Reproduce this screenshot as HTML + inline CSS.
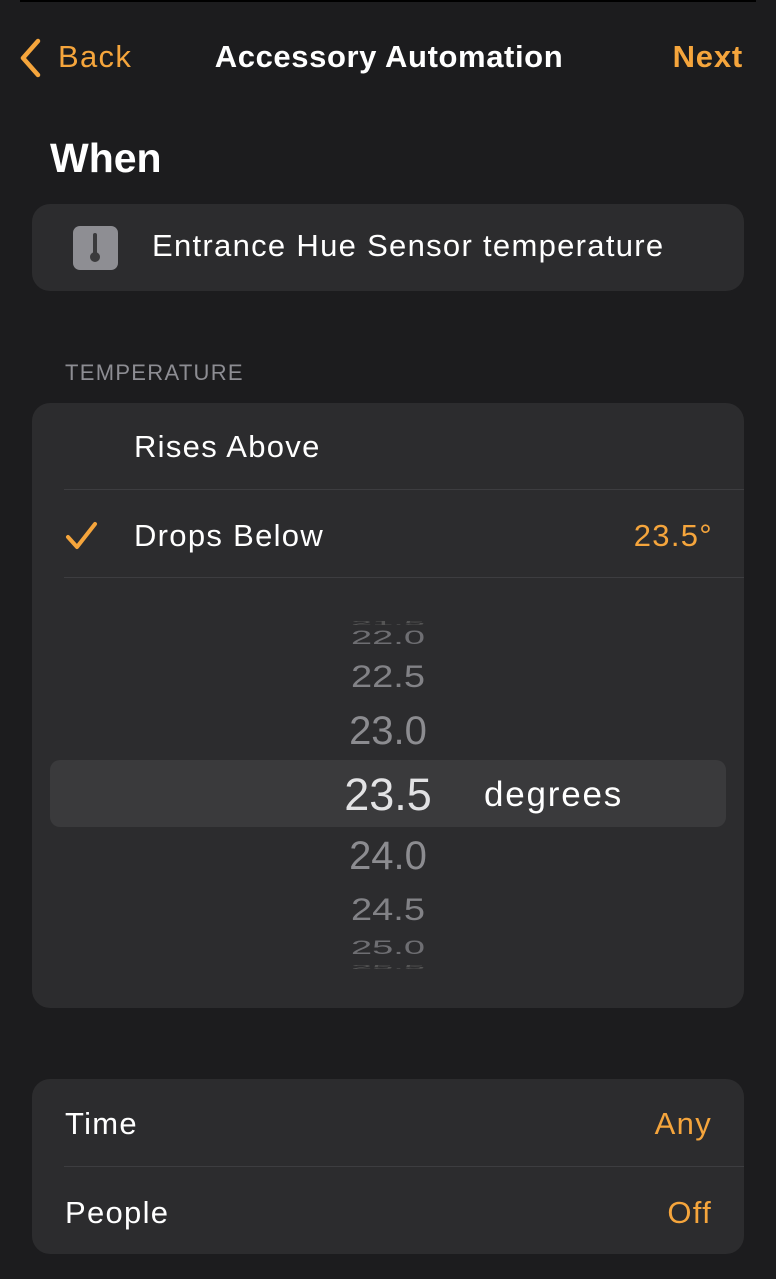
<!DOCTYPE html>
<html><head><meta charset="utf-8"><style>
*{margin:0;padding:0;box-sizing:border-box}
body{width:776px;height:1279px;background:#1c1c1e;font-family:"Liberation Sans",sans-serif;color:#fff;position:relative;overflow:hidden}
.a{position:absolute;white-space:nowrap;line-height:1}
.r{font-size:31px;letter-spacing:1.3px}
.card{position:absolute;left:32px;width:712px;background:#2c2c2e;border-radius:18px}
.sep{position:absolute;left:64px;width:680px;height:1px;background:#3d3d40}
.or{color:#f5a53c}
.pk{position:absolute;left:238px;width:300px;text-align:center;line-height:1;color:#8c8c90;font-family:"Liberation Sans",sans-serif}
</style></head><body>
<div class="a" style="left:20px;top:0;width:736px;height:2px;background:#000"></div>
<svg class="a" style="left:18px;top:38px" width="26" height="40"><path d="M20 3 L5 20 L20 37" stroke="#f5a53c" stroke-width="4.5" fill="none" stroke-linecap="round" stroke-linejoin="round"/></svg>
<div class="a or r" style="left:58px;top:41px">Back</div>
<div class="a" style="left:0;width:776px;text-align:center;top:41px;font-size:31px;font-weight:bold;padding-left:2px;letter-spacing:0.6px">Accessory Automation</div>
<div class="a or" style="right:33px;top:41px;font-size:31px;font-weight:bold;letter-spacing:0.8px">Next</div>
<div class="a" style="left:50px;top:138px;font-size:41px;font-weight:bold">When</div>

<div class="card" style="top:204px;height:87px"></div>
<div class="a" style="left:73px;top:226px;width:45px;height:44px;background:#8e8e93;border-radius:7px">
<div style="position:absolute;left:20px;top:7px;width:4px;height:24px;background:#3a3a3c;border-radius:2px"></div>
<div style="position:absolute;left:17px;top:26px;width:10px;height:10px;background:#3a3a3c;border-radius:50%"></div></div>
<div class="a r" style="left:152px;top:230px">Entrance Hue Sensor temperature</div>

<div class="a" style="left:65px;top:362px;font-size:22px;color:#8d8d93;letter-spacing:1.3px">TEMPERATURE</div>
<div class="card" style="top:403px;height:605px"></div>
<div class="a r" style="left:134px;top:431px">Rises Above</div>
<div class="sep" style="top:489px"></div>
<svg class="a" style="left:64px;top:520px" width="36" height="32"><path d="M4 17 L13 27 L31 4" stroke="#f5a53c" stroke-width="4" fill="none" stroke-linecap="round" stroke-linejoin="round"/></svg>
<div class="a r" style="left:134px;top:520px">Drops Below</div>
<div class="a or r" style="right:63px;top:520px">23.5°</div>
<div class="sep" style="top:577px"></div>

<div class="a" style="left:50px;top:760px;width:676px;height:67px;background:#3a3a3c;border-radius:10px"></div>
<div class="pk" style="top:604px;font-size:38px;transform:scaleY(0.15);color:#555">21.5</div>
<div class="pk" style="top:619px;font-size:38px;transform:scaleY(0.5);color:#6e6e72">22.0</div>
<div class="pk" style="top:658px;font-size:38px;transform:scaleY(0.82);color:#828286">22.5</div>
<div class="pk" style="top:711px;font-size:40px">23.0</div>
<div class="pk" style="top:772px;font-size:45px;color:#e2e2e4">23.5</div>
<div class="a" style="left:484px;top:777px;font-size:35px;letter-spacing:1.8px">degrees</div>
<div class="pk" style="top:836px;font-size:40px">24.0</div>
<div class="pk" style="top:891px;font-size:38px;transform:scaleY(0.82);color:#828286">24.5</div>
<div class="pk" style="top:929px;font-size:38px;transform:scaleY(0.5);color:#6e6e72">25.0</div>
<div class="pk" style="top:948px;font-size:38px;transform:scaleY(0.15);color:#555">25.5</div>

<div class="card" style="top:1079px;height:175px"></div>
<div class="a r" style="left:65px;top:1108px">Time</div>
<div class="a or r" style="right:64px;top:1108px">Any</div>
<div class="sep" style="top:1166px"></div>
<div class="a r" style="left:65px;top:1197px">People</div>
<div class="a or r" style="right:64px;top:1197px">Off</div>
</body></html>
